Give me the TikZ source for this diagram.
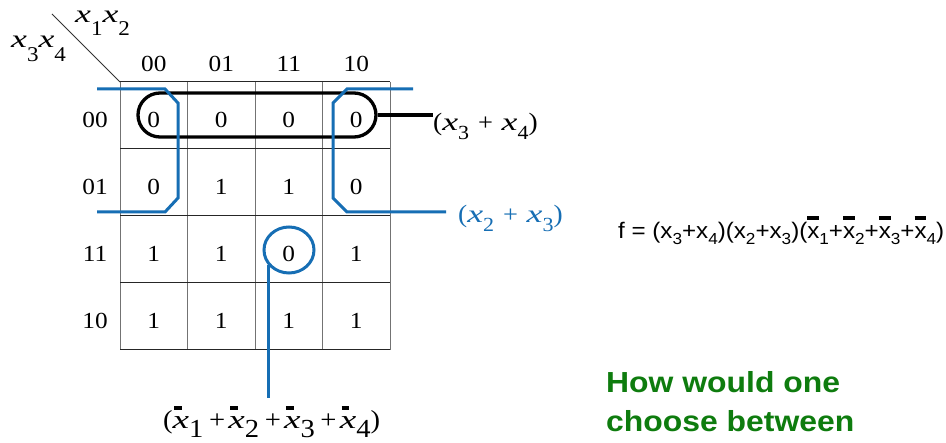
\documentclass[tikz,border=0pt]{standalone}
\usepackage{fontspec}
\setmainfont{Liberation Serif}
\setsansfont{Liberation Sans}
\usetikzlibrary{shapes.geometric,shapes.misc}
\definecolor{kblue}{RGB}{22,110,180}
\definecolor{kgreen}{RGB}{14,124,14}
\newcommand\hs[1]{\scalebox{1.1}[1]{#1}}
\newcommand\ix{\scalebox{1.3}[1]{\textit{x}}}
\newcommand\hx[2]{\ix\raisebox{-#2pt}{\fontsize{21}{21}\selectfont #1}}
\newcommand\lx[1]{\ix\raisebox{-9pt}{\fontsize{20}{20}\selectfont #1}}
\newcommand\lpl{\hspace{8pt}{\fontsize{24}{24}\selectfont +}\hspace{8pt}}
\newcommand\bx[1]{\makebox[0pt][l]{\hspace{1.5pt}\rule[19pt]{7pt}{4pt}}\ix\raisebox{-9pt}{#1}}
\newcommand\bpl{\hspace{5pt}+\hspace{3pt}}
\newcommand\fx[1]{x\raisebox{-6pt}{\fontsize{16}{16}\selectfont #1}}
\newcommand\fbx[1]{\makebox[0pt][l]{\rule[19pt]{11pt}{4pt}}\fx{#1}}
\begin{document}
\begin{tikzpicture}[x=1pt,y=-1pt,
  txt/.style={inner sep=0pt, font=\fontsize{23}{27}\selectfont},
  lab/.style={inner sep=0pt, font=\fontsize{25}{29}\selectfont},
  gridv/.style={draw=black!55, line width=1pt},
  gridh/.style={draw=black!85, line width=1pt},
  bl/.style={draw=kblue, line width=3pt},
  blk/.style={draw=black, line width=3.3pt}]
\fill[white] (0,0) rectangle (946,443);
\useasboundingbox (0,0) rectangle (946,443);
% grid
\foreach \x in {120,187.5,255,322.5,390} \draw[gridv] (\x,82) -- (\x,350);
\foreach \y in {82,149,216,283,350} \draw[gridh] (120,\y) -- (390,\y);
\coordinate (corner) at (120,82);
\coordinate (diagend) at (52,14);
\draw[black!80, line width=0.8pt] (diagend) -- (corner);
% headers
\node[lab,anchor=base west] (x12) at (75,23) {\hs{\hx{1}{13}\hx{2}{13}}};
\node[lab,anchor=base west] (x34) at (11,48) {\hs{\hx{3}{14}\hx{4}{14}}};
\foreach \t [count=\k from 0] in {00,01,11,10} {
  \node[txt,anchor=base] (h\k) at ({153.75+67.5*\k},72) {\hs{\t}};
  \node[txt,anchor=base] (r\k) at (95,{128+67*\k}) {\hs{\t}};
}
% cells
\foreach \v [count=\k from 0] in {0,0,0,0, 0,1,1,0, 1,1,0,1, 1,1,1,1} {
  \pgfmathtruncatemacro\row{div(\k,4)}
  \pgfmathtruncatemacro\col{mod(\k,4)}
  \node[txt,anchor=base] (c\row\col) at ({153.75+67.5*\col},{128+67*\row}) {\hs{\v}};
}
% black group (x3+x4)
\node[blk, rounded rectangle, minimum width=238pt, minimum height=44pt, inner sep=0pt] (st) at (257,115) {};
\node[lab,anchor=base west] (l34) at (433,131) {\hs{(\lx3\lpl\lx4)}};
\draw[blk] (st.east) -- (st.east -| l34.west);
% blue group (x2+x3)
\draw[bl] (97,89) -- (165,89) -- (178,103) -- (178,198) -- (165,212) -- (97,212);
\coordinate (b23) at (446,212);
\draw[bl] (413,89) -- (347,89) -- (333,103) -- (333,198) -- (347,212) -- (b23);
\node[lab,anchor=base west,text=kblue] (l23) at (458,223) {\hs{(\lx2\lpl\lx3)}};
% blue circle
\node[bl, ellipse, minimum width=50pt, minimum height=46pt, inner sep=0pt] (cc) at (289,250) {};
\coordinate (ce) at (269,398);
\draw[bl] (cc.217) -- (cc.217 |- ce);
\node[anchor=base west, inner sep=0pt, font=\fontsize{26}{30}\selectfont] (lb) at (163,429) {\hs{(\bx1\bpl\bx2\bpl\bx3\bpl\bx4)}};
% formula
\node[anchor=base west, inner sep=0pt, font=\sffamily\fontsize{22.5}{26}\selectfont] (f) at (618,239)
  {\resizebox{326pt}{\height}{f = (\fx3+\fx4)(\fx2+\fx3)(\fbx1+\fbx2+\fbx3+\fbx4)}};
% green question
\node[anchor=base west, inner sep=0pt, text=kgreen, font=\sffamily\bfseries\fontsize{29}{39}\selectfont] (q1) at (606,393) {\hs{How would one}};
\node[anchor=base west, inner sep=0pt, text=kgreen, font=\sffamily\bfseries\fontsize{29}{39}\selectfont] (q2) at (606,432) {\hs{choose between}};
\end{tikzpicture}
\end{document}
